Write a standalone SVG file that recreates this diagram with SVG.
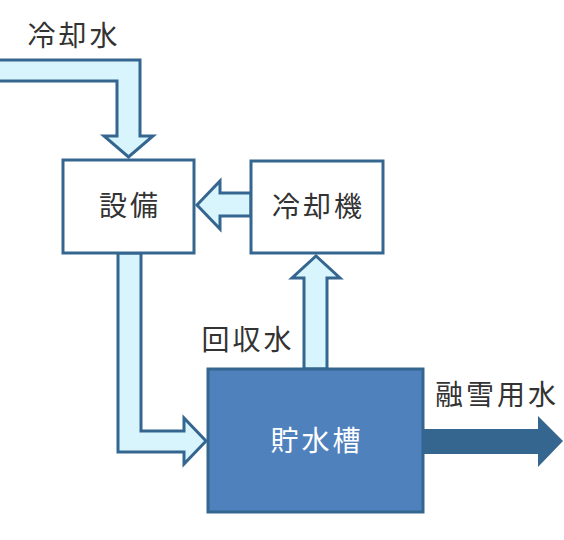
<svg xmlns="http://www.w3.org/2000/svg" width="564" height="540" viewBox="0 0 564 540">
<style>
.flow{fill:#d8f5fd;stroke:#35668f;stroke-width:3;stroke-linejoin:miter}
.box{fill:#ffffff;stroke:#35668f;stroke-width:3}
.tank{fill:#4f81bd;stroke:#35668f;stroke-width:3}
.t{font-family:"Noto Sans CJK JP","Noto Sans",sans-serif;font-size:28px;fill:#333333;letter-spacing:3px}
.tw{font-family:"Noto Sans CJK JP","Noto Sans",sans-serif;font-size:28px;fill:#ffffff;letter-spacing:3px}
</style>
<rect width="564" height="540" fill="#ffffff"/>
<g id="connectors">
<path class="flow" d="M -5 60 L 140 60 L 140 136 L 153 136 L 128.5 157 L 104 136 L 117 136 L 117 81 L -5 81 Z"/>
<path class="flow" d="M 251 193 L 220 193 L 220 181 L 197 205 L 220 229 L 220 216 L 251 216 Z"/>
<path class="flow" d="M 118 253 L 118 452 L 184 452 L 184 464 L 206 441 L 184 418 L 184 431 L 141 431 L 141 253 Z"/>
<path class="flow" d="M 304 369 L 304 278 L 292 278 L 316 256 L 340 278 L 327 278 L 327 369 Z"/>
<path d="M 423 429 L 538 429 L 538 416 L 563 441 L 538 467 L 538 454 L 423 454 Z" fill="#35668f"/>
</g>
<g id="label-coolwater"><text class="t" x="74" y="46" text-anchor="middle">冷却水</text></g>
<g id="label-recovered"><text class="t" x="248" y="350" text-anchor="middle">回収水</text></g>
<g id="label-snowmelt"><text class="t" x="497" y="405" text-anchor="middle">融雪用水</text></g>
<g id="node-equipment">
<rect class="box" x="63" y="160" width="131" height="93"/>
<text class="t" x="130" y="216" text-anchor="middle">設備</text>
</g>
<g id="node-chiller">
<rect class="box" x="251" y="161" width="132" height="92"/>
<text class="t" x="318.5" y="217" text-anchor="middle">冷却機</text>
</g>
<g id="node-tank">
<rect class="tank" x="208" y="369" width="215" height="143"/>
<text class="tw" x="317" y="451" text-anchor="middle">貯水槽</text>
</g>
</svg>
